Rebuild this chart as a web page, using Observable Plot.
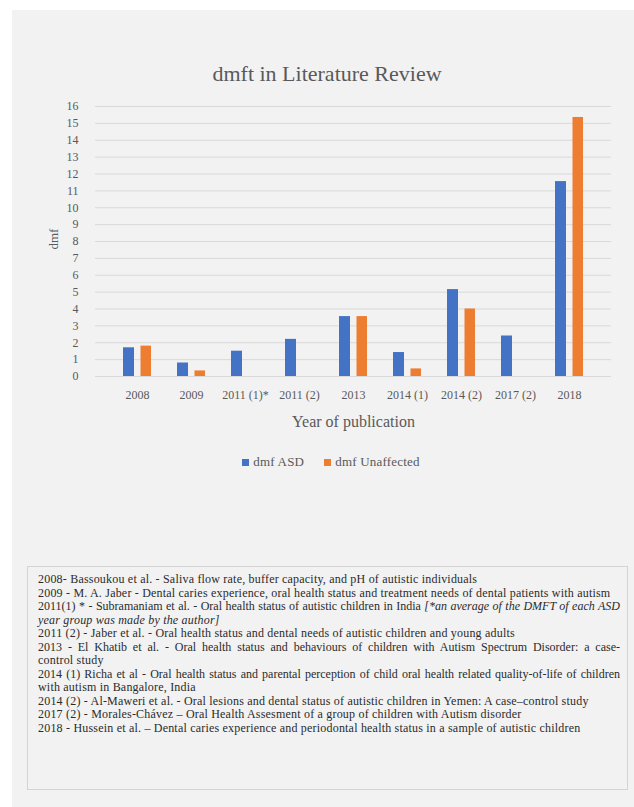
<!DOCTYPE html>
<html>
<head>
<meta charset="utf-8">
<script src="https://cdn.jsdelivr.net/npm/d3@7"></script>
<script src="https://cdn.jsdelivr.net/npm/@observablehq/plot@0.6"></script>
<style>
  html, body { margin: 0; padding: 0; background: #ffffff; width: 634px; height: 807px; overflow: hidden; }
  #panel { position: absolute; left: 12px; top: 10px; width: 622px; height: 797px; background: #f2f2f2; }
  .abs { position: absolute; }
  #title { left: 0; width: 654px; top: 61px; text-align: center; font-family: "Liberation Serif", "Times New Roman", serif; font-size: 22px; color: #595959; }
  #chart { left: 0; top: 95px; }
  #legend { left: 0; width: 662px; top: 454px; text-align: center; font-family: "Liberation Serif", "Times New Roman", serif; font-size: 13px; letter-spacing: 0.2px; color: #595959; }
  #legend span.sw { display: inline-block; width: 7px; height: 7px; margin-right: 4px; vertical-align: 0px; }
  #legend span.item { margin: 0 10px; }
  #notes { left: 27px; top: 566px; width: 599px; height: 222px; border: 1px solid #d4d4d4; box-sizing: content-box; }
  #notes .inner { position: absolute; left: 10px; top: 6px; width: 582px; font-family: "Liberation Serif", "Times New Roman", serif; font-size: 12px; letter-spacing: 0.2px; line-height: 13.5px; color: #2b2b2b; }
  #notes .j { text-align: justify; text-align-last: justify; white-space: nowrap; letter-spacing: 0px; }
  #notes .l { white-space: nowrap; }
</style>
</head>
<body>
<div id="panel"></div>
<div id="title" class="abs"></div>
<div id="chart" class="abs"></div>
<div id="legend" class="abs"></div>
<div id="notes" class="abs"><div class="inner"></div></div>
<script>
const titleText = "dmft in Literature Review";
const categories = ["2008", "2009", "2011 (1)*", "2011 (2)", "2013", "2014 (1)", "2014 (2)", "2017 (2)", "2018"];
const dmfASD = [1.7, 0.8, 1.5, 2.2, 3.55, 1.42, 5.15, 2.4, 11.55];
const dmfUnaffected = [1.8, 0.33, null, null, 3.55, 0.45, 4.0, null, 15.35];
const seriesNames = ["dmf ASD", "dmf Unaffected"];
const seriesColors = ["#4472C4", "#ED7D31"];
const yTicks = [0, 1, 2, 3, 4, 5, 6, 7, 8, 9, 10, 11, 12, 13, 14, 15, 16];
const yLabel = "dmf";
const xLabel = "Year of publication";
const noteLines = [
  {t: "2008- Bassoukou et al. - Saliva flow rate, buffer capacity, and pH of autistic individuals", c: "l"},
  {t: "2009 - M. A. Jaber - Dental caries experience, oral health status and treatment needs of dental patients with autism", c: "l"},
  {t: "2011(1) * - Subramaniam et al. - Oral health status of autistic children in India <i>[*an average of the DMFT of each ASD</i>", c: "j"},
  {t: "<i>year group was made by the author]</i>", c: "l"},
  {t: "2011 (2) - Jaber et al. - Oral health status and dental needs of autistic children and young adults", c: "l"},
  {t: "2013 - El Khatib et al. - Oral health status and behaviours of children with Autism Spectrum Disorder: a case-", c: "j"},
  {t: "control study", c: "l"},
  {t: "2014 (1) Richa et al - Oral health status and parental perception of child oral health related quality-of-life of children", c: "j"},
  {t: "with autism in Bangalore, India", c: "l"},
  {t: "2014 (2) - Al-Maweri et al. - Oral lesions and dental status of autistic children in Yemen: A case–control study", c: "l"},
  {t: "2017 (2) - Morales-Chávez – Oral Health Assesment of a group of children with Autism disorder", c: "l"},
  {t: "2018 - Hussein et al. – Dental caries experience and periodontal health status in a sample of autistic children", c: "l"}
];

const rows = [];
categories.forEach((c, i) => {
  if (dmfASD[i] != null) rows.push({cat: c, series: seriesNames[0], value: dmfASD[i]});
  if (dmfUnaffected[i] != null) rows.push({cat: c, series: seriesNames[1], value: dmfUnaffected[i]});
});

document.getElementById("title").textContent = titleText;

const chart = Plot.plot({
  width: 634,
  height: 336,
  marginTop: 11,
  marginLeft: 95,
  marginRight: 23,
  marginBottom: 55,
  style: {background: "transparent", fontFamily: "'Liberation Serif', 'Times New Roman', serif", fontSize: "12px", color: "#595959"},
  x: {domain: categories, padding: 0.48, label: null},
  y: {domain: [0, 16], label: null},
  color: {domain: seriesNames, range: seriesColors},
  marks: [
    Plot.ruleY(yTicks, {stroke: "#d9d9d9", strokeWidth: 1}),
    Plot.barY(rows.filter(d => d.series === seriesNames[0]), {x: "cat", y: "value", fill: "series", insetRight: 17}),
    Plot.barY(rows.filter(d => d.series === seriesNames[1]), {x: "cat", y: "value", fill: "series", insetLeft: 17.5}),
    Plot.axisY({ticks: yTicks, tickSize: 0, tickPadding: 17, label: null, fontSize: 12}),
    Plot.axisX({tickSize: 0, tickPadding: 14, label: null, fontSize: 12}),
    Plot.text([yLabel], {frameAnchor: "left", dx: -42, dy: 8, rotate: -90, fontSize: 13, fill: "#595959"}),
    Plot.text([xLabel], {frameAnchor: "bottom", dy: 50, fontSize: 16, fill: "#595959"})
  ]
});
document.getElementById("chart").appendChild(chart);

const legend = document.getElementById("legend");
seriesNames.forEach((s, i) => {
  const item = document.createElement("span");
  item.className = "item";
  const sw = document.createElement("span");
  sw.className = "sw";
  sw.style.background = seriesColors[i];
  item.appendChild(sw);
  item.appendChild(document.createTextNode(s));
  legend.appendChild(item);
});

const inner = document.querySelector("#notes .inner");
noteLines.forEach(n => {
  const d = document.createElement("div");
  d.className = n.c;
  d.innerHTML = n.t;
  inner.appendChild(d);
});
</script>
</body>
</html>
